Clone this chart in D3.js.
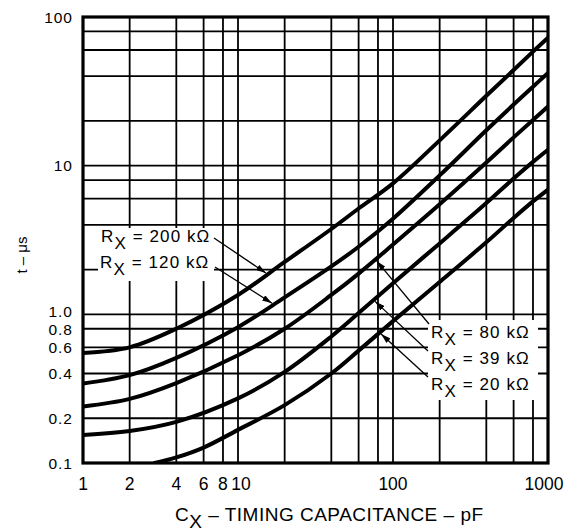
<!DOCTYPE html>
<html><head><meta charset="utf-8">
<script src="https://cdn.jsdelivr.net/npm/d3@7"></script>
<style>
body{margin:0;background:#fff;}
svg{display:block;}
text{font-family:"Liberation Sans",Arial,Helvetica,sans-serif;fill:#000;}
</style>
</head><body>
<svg id="chart" width="565" height="532"></svg>
<script>
// ---------- data ----------
const xTickValues = [1, 2, 4, 6, 8, 10, 100, 1000];
const xTickLabels = ["1", "2", "4", "6", "8", "10", "100", "1000"];
const yTickValues = [100, 10, 1, 0.8, 0.6, 0.4, 0.2, 0.1];
const yTickLabels = ["100", "10", "1.0", "0.8", "0.6", "0.4", "0.2", "0.1"];
const xGridValues = [2, 4, 6, 8, 10, 20, 40, 60, 80, 100, 200, 400, 600, 800];
const yGridValues = [0.2, 0.4, 0.6, 0.8, 1, 2, 4, 6, 8, 10, 20, 40, 60, 80];

const seriesNames = ["200 kΩ", "120 kΩ", "80 kΩ", "39 kΩ", "20 kΩ"];
const cap200 = [1, 2, 4, 10, 20, 40, 60, 100, 200, 400, 600, 800, 1000];
const t200   = [0.55, 0.60, 0.80, 1.35, 2.25, 3.75, 5.15, 7.6, 14.8, 29.5, 44, 58.5, 72.5];
const cap120 = [1, 2, 4, 10, 20, 40, 60, 100, 200, 400, 600, 800, 1000];
const t120   = [0.343, 0.39, 0.51, 0.82, 1.3, 2.1, 2.85, 4.4, 8.6, 17.3, 25.8, 34, 42];
const cap80  = [1, 2, 4, 10, 20, 40, 60, 100, 200, 400, 600, 800, 1000];
const t80    = [0.24, 0.27, 0.345, 0.53, 0.8, 1.35, 1.88, 2.95, 5.5, 10.5, 15.5, 20.3, 25];
const cap39  = [1, 2, 4, 10, 20, 40, 60, 100, 200, 400, 600, 800, 1000];
const t39    = [0.154, 0.164, 0.189, 0.272, 0.41, 0.71, 1.02, 1.62, 3.0, 5.6, 8.2, 10.6, 12.8];
const cap20  = [2.9, 4, 6, 10, 20, 40, 60, 100, 200, 400, 600, 800, 1000];
const t20    = [0.1, 0.109, 0.127, 0.167, 0.245, 0.40, 0.57, 0.9, 1.65, 3.05, 4.45, 5.75, 6.9];

// annotation targets (capacitance where each arrow meets its curve)
const arrowCap = [15.5, 17, 77, 75, 82];

// ---------- layout ----------
const svg = d3.select("#chart");
const L = 83, R = 548, T = 17, B = 463;
const x = d3.scaleLog().domain([1, 1000]).range([L, R]);
const y = d3.scaleLog().domain([0.1, 100]).range([B, T]);

const series = [
  {name: seriesNames[0], cap: cap200, t: t200},
  {name: seriesNames[1], cap: cap120, t: t120},
  {name: seriesNames[2], cap: cap80,  t: t80},
  {name: seriesNames[3], cap: cap39,  t: t39},
  {name: seriesNames[4], cap: cap20,  t: t20}
];

// grid
const g = svg.append("g");
g.selectAll("line.vx").data(xGridValues).join("line")
  .attr("x1", d => x(d)).attr("x2", d => x(d)).attr("y1", T).attr("y2", B)
  .attr("stroke", "#000").attr("stroke-width", 1.8);
g.selectAll("line.hy").data(yGridValues).join("line")
  .attr("y1", d => y(d)).attr("y2", d => y(d)).attr("x1", L).attr("x2", R)
  .attr("stroke", "#000").attr("stroke-width", 1.8);

// white label backgrounds (they interrupt the grid)
svg.append("rect").attr("x", 98).attr("y", 228).attr("width", 116).attr("height", 53).attr("fill", "#fff");
svg.append("rect").attr("x", 428).attr("y", 320).attr("width", 110).attr("height", 80).attr("fill", "#fff");

// curves
svg.append("clipPath").attr("id", "clip").append("rect")
  .attr("x", L).attr("y", T).attr("width", R - L).attr("height", B - T);
const line = d3.line().x(d => x(d[0])).y(d => y(d[1])).curve(d3.curveCatmullRom.alpha(0.5));
svg.append("g").attr("clip-path", "url(#clip)")
  .selectAll("path").data(series).join("path")
  .attr("d", s => line(s.cap.map((c, i) => [c, s.t[i]])))
  .attr("fill", "none").attr("stroke", "#000").attr("stroke-width", 4)
  .attr("stroke-linecap", "round");

// frame
svg.append("rect").attr("x", L).attr("y", T).attr("width", R - L).attr("height", B - T)
  .attr("fill", "none").attr("stroke", "#000").attr("stroke-width", 3.2);

// axes tick labels
svg.append("g").selectAll("text").data(xTickValues).join("text")
  .attr("x", d => x(d)).attr("y", 490)
  .attr("dx", (d, i) => i === xTickValues.length - 1 ? -4 : (d === 10 ? 3 : 0))
  .attr("text-anchor", "middle").attr("font-size", 17.5)
  .text((d, i) => xTickLabels[i]);
svg.append("g").selectAll("text").data(yTickValues).join("text")
  .attr("x", 73).attr("y", d => y(d) + (d === 1 ? -3 : (d === 0.8 ? 0.5 : 0))).attr("dy", "0.36em")
  .attr("text-anchor", "end").attr("font-size", 15.5).attr("letter-spacing", 1)
  .text((d, i) => yTickLabels[i]);

// axis titles
const xt = svg.append("text").attr("x", 175).attr("y", 521).attr("font-size", 19).attr("letter-spacing", 0.5);
xt.append("tspan").text("C");
xt.append("tspan").attr("dy", 7).text("X");
xt.append("tspan").attr("dy", -7).text(" – TIMING CAPACITANCE – pF");

svg.append("text").attr("transform", "translate(27,255) rotate(-90)")
  .attr("text-anchor", "middle").attr("font-size", 15).text("t – μs");

// annotations
function tAt(s, c) {
  for (let i = 0; i < s.cap.length - 1; i++) {
    if (c >= s.cap[i] && c <= s.cap[i + 1]) {
      const f = (Math.log(c) - Math.log(s.cap[i])) / (Math.log(s.cap[i + 1]) - Math.log(s.cap[i]));
      return Math.exp(Math.log(s.t[i]) + f * (Math.log(s.t[i + 1]) - Math.log(s.t[i])));
    }
  }
  return s.t[s.t.length - 1];
}
const labelPos = [
  {tx: 101, ty: 242, ax: 214, ay: 238},
  {tx: 100, ty: 268, ax: 215, ay: 267},
  {tx: 431, ty: 338, ax: 429, ay: 324},
  {tx: 431, ty: 364, ax: 428, ay: 351},
  {tx: 431, ty: 390, ax: 428, ay: 377}
];
const defs = svg.append("defs");
defs.append("marker").attr("id", "ah").attr("viewBox", "0 0 10 6")
  .attr("refX", 10).attr("refY", 3).attr("markerWidth", 10).attr("markerHeight", 6)
  .attr("markerUnits", "userSpaceOnUse").attr("orient", "auto")
  .append("path").attr("d", "M0,0 L10,3 L0,6 Z").attr("fill", "#000");

series.forEach((s, i) => {
  const p = labelPos[i];
  const c = arrowCap[i];
  const tx = x(c), ty = y(tAt(s, c));
  const dx = tx - p.ax, dy = ty - p.ay, len = Math.hypot(dx, dy);
  svg.append("line").attr("x1", p.ax).attr("y1", p.ay)
    .attr("x2", p.ax + dx * (len - 2) / len).attr("y2", p.ay + dy * (len - 2) / len)
    .attr("stroke", "#000").attr("stroke-width", 1.3).attr("marker-end", "url(#ah)");
  const t = svg.append("text").attr("x", p.tx).attr("y", p.ty).attr("font-size", 17).attr("letter-spacing", 1.1);
  t.append("tspan").text("R");
  t.append("tspan").attr("dy", 7).text("X");
  t.append("tspan").attr("dy", -7).text(" = " + s.name);
});
</script>
</body></html>
